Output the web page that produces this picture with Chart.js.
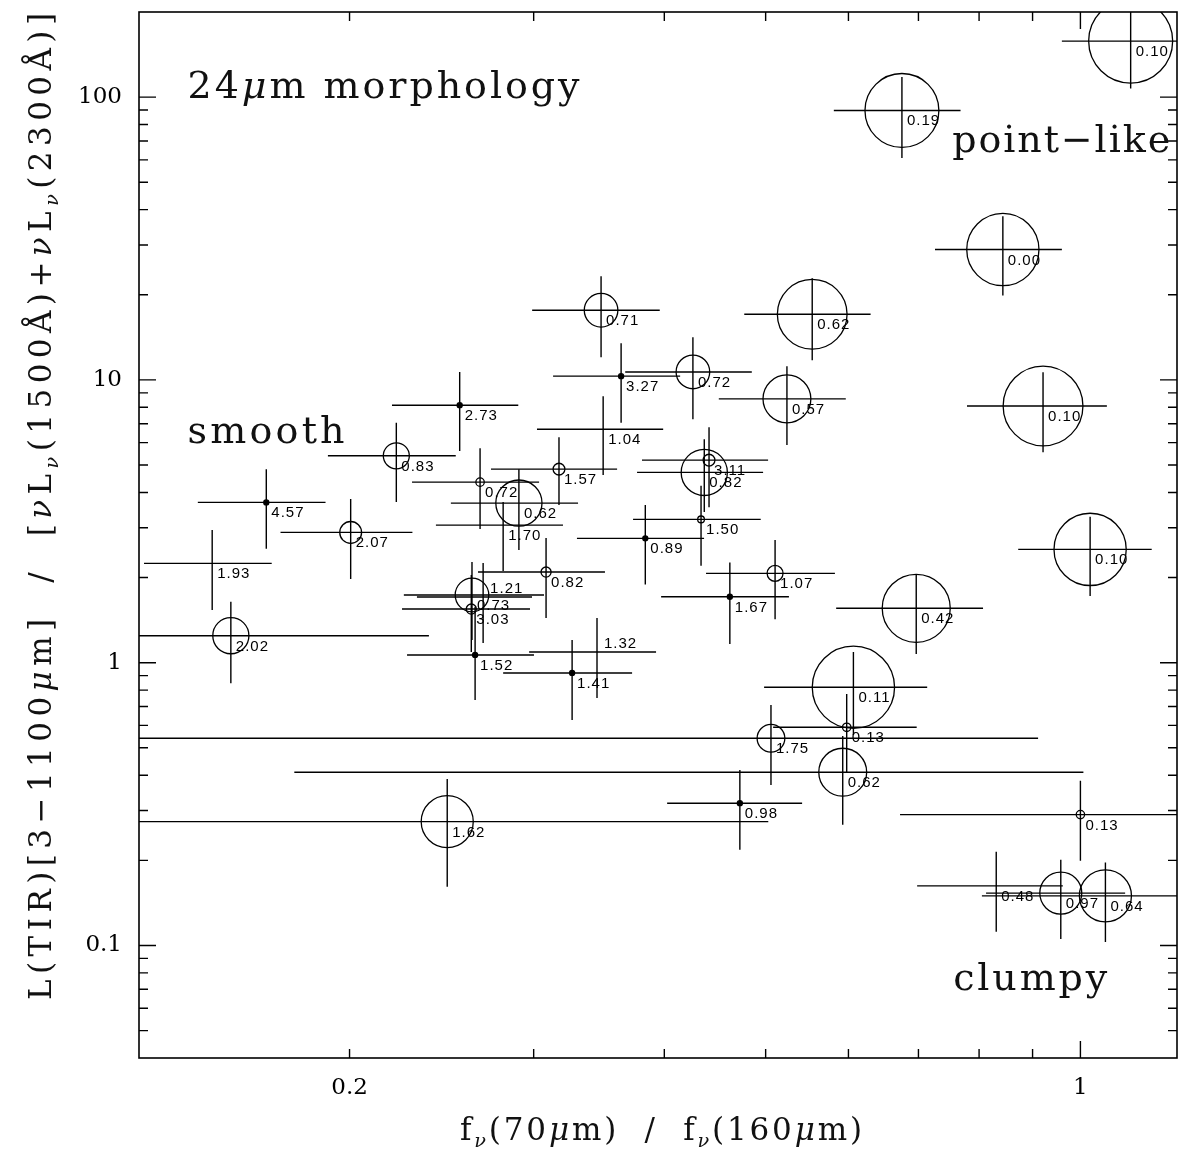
<!DOCTYPE html>
<html><head><meta charset="utf-8">
<script src="https://cdn.jsdelivr.net/npm/chart.js@4.4.0/dist/chart.umd.min.js"></script>
<style>html,body{margin:0;padding:0;background:#fff;}</style>
</head><body>
<canvas id="c" width="1179" height="1150"></canvas>
<script>
// ---- data ----
const labels = ["0.10","0.19","0.00","0.62","0.71","0.72","3.27","0.57","0.10","0.10",
  "0.42","2.73","0.83","4.57","2.07","1.93","2.02","0.72","0.62","1.70",
  "1.57","1.04","0.82","1.21","0.73","3.03","1.52","1.32","1.41","0.89",
  "1.50","3.11","0.82","1.07","1.67","0.11","0.13","1.75","0.62","0.98",
  "1.62","0.13","0.48","0.97","0.64"];
const xVal = [1.117,0.675,0.843,0.554,0.348,0.426,0.3637,0.524,0.921,1.0216,
  0.6966,0.2549,0.2217,0.1665,0.2005,0.1478,0.1540,0.2666,0.2904,0.2805,
  0.3172,0.3496,0.3083,0.2684,0.2619,0.2615,0.2637,0.3449,0.3265,0.3836,
  0.4337,0.4414,0.4368,0.5105,0.4621,0.6066,0.5977,0.5059,0.5925,0.4724,
  0.248,1.0,0.8308,0.9577,1.0566];
const xLo = [0.960,0.581,0.726,0.477,0.299,0.367,0.3131,0.451,0.779,0.872,
  0.584,0.2196,0.1907,0.1432,0.1718,0.1272,0.070,0.2295,0.250,0.2419,
  0.2731,0.3022,0.2654,0.232,0.2254,0.2245,0.227,0.2970,0.2805,0.330,
  0.3734,0.3808,0.3767,0.4385,0.3972,0.4983,0.5083,0.101,0.1771,0.4025,
  0.05,0.6722,0.698,0.8124,0.805];
const xHi = [1.274,0.768,0.960,0.630,0.396,0.485,0.4142,0.5965,1.060,1.170,
  0.807,0.290,0.2527,0.1897,0.2297,0.1685,0.2382,0.3036,0.3308,0.320,
  0.3605,0.399,0.3510,0.2989,0.3069,0.2976,0.3002,0.3928,0.3726,0.4366,
  0.4946,0.5027,0.4972,0.5824,0.5263,0.7136,0.6973,0.911,1.0066,0.5418,
  0.5029,1.33,0.962,1.1035,1.31];
const yVal = [157.8,89.7,28.9,17.07,17.63,10.67,10.31,8.57,8.09,2.516,
  1.557,8.14,5.39,3.688,2.889,2.245,1.246,4.35,3.667,3.066,
  4.836,6.695,2.092,1.707,1.735,1.548,1.065,1.091,0.920,2.752,
  3.212,5.203,4.708,2.07,1.711,0.8185,0.591,0.5405,0.410,0.3185,
  0.2742,0.2903,0.1625,0.1532,0.1498];
const yLo = [107.3,60.9,19.9,11.74,12.03,7.26,7.05,5.88,5.55,1.721,
  1.073,5.60,3.70,2.528,1.976,1.536,0.846,2.968,2.502,2.109,
  3.608,4.606,1.439,1.174,1.203,1.091,0.738,0.750,0.627,1.892,
  2.202,3.549,3.41,1.423,1.164,0.555,0.4076,0.3697,0.267,0.2179,
  0.1612,0.1992,0.1118,0.1054,0.1028];
const yHi = [208,117.7,37.9,22.88,23.25,14.16,13.48,11.18,10.65,3.28,
  2.058,10.67,7.05,4.836,3.788,2.944,1.643,5.737,4.836,3.70,
  6.27,8.76,2.758,2.250,2.269,2.041,1.573,1.439,1.203,3.608,
  4.22,6.805,6.17,2.714,2.263,1.091,0.775,0.7086,0.5508,0.4176,
  0.388,0.382,0.2144,0.2008,0.1965];
// relative 24um compactness (circle size, 0..1)
const compact = [1.00,0.88,0.86,0.83,0.40,0.40,0.06,0.57,0.95,0.86,
  0.81,0.06,0.31,0.06,0.26,0,0.43,0.10,0.55,0,
  0.14,0,0.12,0,0.40,0.12,0.06,0,0.06,0.06,
  0.08,0.14,0.55,0.19,0.06,0.98,0.10,0.33,0.57,0.06,
  0.62,0.10,0,0.50,0.62];
const labelAbove = [23, 27];
const xTicks = [0.2, 1];
const yTicks = [0.1, 1, 10, 100];
const xRange = [0.1258, 1.237];
const yRange = [0.04, 200];

// ---- styles ----
const RMAX = 42;
const SERIF = '"DejaVu Serif", "Liberation Serif", serif';
const SANS = '"Liberation Sans", Arial, sans-serif';

function setLS(ctx, px){ if ('letterSpacing' in ctx) ctx.letterSpacing = px + 'px'; }

// rich text: segments {t, sub, it}
function richWidth(ctx, segs, size){
  let w = 0, n = 0;
  for (const s of segs){
    const fs = s.sub ? size*0.62 : size;
    ctx.font = (s.it ? 'italic ' : '') + fs + 'px ' + SERIF;
    setLS(ctx, 0);
    w += ctx.measureText(s.t).width; n += [...s.t].length;
  }
  return {w, n};
}
function drawRich(ctx, segs, x, y, size, target){
  const m = richWidth(ctx, segs, size);
  const ls = target ? Math.max(0, (target - m.w) / (m.n - 1)) : 0;
  let cx = x;
  ctx.textBaseline = 'alphabetic'; ctx.textAlign = 'left';
  for (const s of segs){
    const fs = s.sub ? size*0.62 : size;
    ctx.font = (s.it ? 'italic ' : '') + fs + 'px ' + SERIF;
    setLS(ctx, ls);
    const dy = s.sub ? size*0.22 : 0;
    ctx.fillText(s.t, cx, y + dy);
    setLS(ctx, 0);
    cx += ctx.measureText(s.t).width + ls * [...s.t].length;
  }
}

const annotations = [
  {segs:[{t:'24'},{t:'μ',it:true},{t:'m morphology'}], x:0.140, y:98.9, w:392},
  {segs:[{t:'smooth'}], x:0.140, y:5.97, w:157},
  {segs:[{t:'point−like'}], x:0.754, y:63.8, w:218},
  {segs:[{t:'clumpy'}], x:0.7557, y:0.0698, w:154}
];

const frameAndBars = {
  id: 'frameAndBars',
  beforeDatasetsDraw(chart){
    const {ctx, chartArea:a, scales:{x, y}} = chart;
    ctx.save();
    ctx.beginPath(); ctx.rect(a.left, a.top, a.right-a.left, a.bottom-a.top); ctx.clip();
    ctx.strokeStyle = '#000'; ctx.lineWidth = 1.4;
    for (let i = 0; i < labels.length; i++){
      const px = x.getPixelForValue(xVal[i]), py = y.getPixelForValue(yVal[i]);
      const xl = x.getPixelForValue(xLo[i]), xh = x.getPixelForValue(xHi[i]);
      const yl = y.getPixelForValue(yLo[i]), yh = y.getPixelForValue(yHi[i]);
      ctx.beginPath();
      ctx.moveTo(xl, py); ctx.lineTo(xh, py);
      ctx.moveTo(px, yl); ctx.lineTo(px, yh);
      ctx.stroke();
    }
    ctx.restore();
  },
  afterDatasetsDraw(chart){
    const {ctx, chartArea:a, scales:{x, y}} = chart;
    ctx.save();
    // point labels
    ctx.fillStyle = '#000';
    ctx.font = '15px ' + SANS; setLS(ctx, 1);
    ctx.textAlign = 'left'; ctx.textBaseline = 'alphabetic';
    for (let i = 0; i < labels.length; i++){
      const px = x.getPixelForValue(xVal[i]), py = y.getPixelForValue(yVal[i]);
      const up = labelAbove.includes(i);
      ctx.fillText(labels[i], px + (up ? 7 : 5), up ? py - 4 : py + 15);
    }
    setLS(ctx, 0);
    // frame
    ctx.strokeStyle = '#000'; ctx.lineWidth = 1.6;
    ctx.strokeRect(a.left, a.top, a.right - a.left, a.bottom - a.top);
    // ticks
    ctx.lineWidth = 1.4;
    ctx.beginPath();
    for (let d = -3; d <= 3; d++){
      for (let m = 1; m <= 9; m++){
        const v = m * Math.pow(10, d);
        const len = m === 1 ? 17 : 9;
        if (v > yRange[0] && v < yRange[1]){
          const py = y.getPixelForValue(v);
          ctx.moveTo(a.left, py); ctx.lineTo(a.left + len, py);
          ctx.moveTo(a.right, py); ctx.lineTo(a.right - len, py);
        }
        if (v > xRange[0] && v < xRange[1]){
          const px = x.getPixelForValue(v);
          ctx.moveTo(px, a.bottom); ctx.lineTo(px, a.bottom - len);
          ctx.moveTo(px, a.top); ctx.lineTo(px, a.top + len);
        }
      }
    }
    ctx.stroke();
    // annotations
    ctx.fillStyle = '#111';
    for (const an of annotations){
      drawRich(ctx, an.segs, x.getPixelForValue(an.x), y.getPixelForValue(an.y), 38, an.w);
    }
    // axis titles
    drawRich(ctx, [{t:'f'},{t:'ν',sub:true,it:true},{t:'(70'},{t:'μ',it:true},{t:'m)  /  f'},{t:'ν',sub:true,it:true},{t:'(160'},{t:'μ',it:true},{t:'m)'}],
      460, 1140, 31, 402);
    ctx.save();
    ctx.translate(51, 1000); ctx.rotate(-Math.PI/2);
    drawRich(ctx, [{t:'L(TIR)[3−1100'},{t:'μ',it:true},{t:'m]  /  ['},{t:'ν',it:true},{t:'L'},{t:'ν',sub:true,it:true},
      {t:'(1500Å)+'},{t:'ν',it:true},{t:'L'},{t:'ν',sub:true,it:true},{t:'(2300Å)]'}], 0, 0, 31, 987);
    ctx.restore();
    ctx.restore();
  }
};

const pts = xVal.map((v, i) => ({x: v, y: yVal[i]}));

new Chart(document.getElementById('c'), {
  type: 'scatter',
  data: { datasets: [{
    data: pts,
    clip: 0,
    pointRadius: c => compact[c.dataIndex] * RMAX,
    pointHoverRadius: c => compact[c.dataIndex] * RMAX,
    pointBorderColor: '#000',
    pointBorderWidth: 1.3,
    pointBackgroundColor: c => compact[c.dataIndex] <= 0.07 ? '#000' : 'rgba(0,0,0,0)'
  }]},
  options: {
    responsive: false, animation: false, devicePixelRatio: 1,
    layout: { autoPadding: false, padding: { top: 12, right: 2, left: 0, bottom: 0 } },
    plugins: { legend: {display: false}, tooltip: {enabled: false}, title: {display: false} },
    events: [],
    scales: {
      x: {
        type: 'logarithmic', min: xRange[0], max: xRange[1],
        afterFit: s => { s.height = 92; s.paddingLeft = 0; s.paddingRight = 0; },
        afterBuildTicks: s => { s.ticks = xTicks.map(v => ({value: v})); },
        grid: { display: false, drawTicks: false }, border: { display: false },
        ticks: { color: '#000', font: { family: SERIF, size: 23 }, padding: 16,
          maxRotation: 0, autoSkip: false, callback: v => String(v) }
      },
      y: {
        type: 'logarithmic', min: yRange[0], max: yRange[1],
        afterFit: s => { s.width = 139; s.paddingTop = 0; s.paddingBottom = 0; },
        afterBuildTicks: s => { s.ticks = yTicks.map(v => ({value: v})); },
        grid: { display: false, drawTicks: false }, border: { display: false },
        ticks: { color: '#000', font: { family: SERIF, size: 23 }, padding: 17,
          autoSkip: false, callback: v => String(v) }
      }
    }
  },
  plugins: [frameAndBars]
});
</script>
</body></html>
